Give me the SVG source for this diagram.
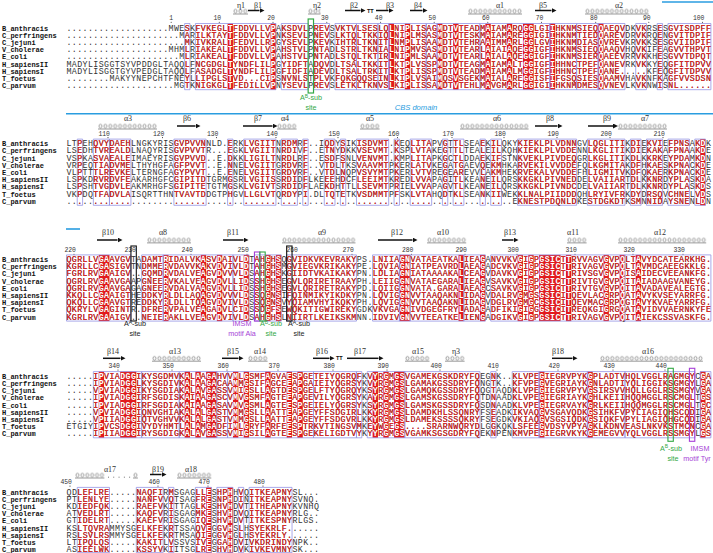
<svg xmlns="http://www.w3.org/2000/svg" xmlns:xlink="http://www.w3.org/1999/xlink" width="713" height="553" viewBox="0 0 713 553">
<style>
.sq{font-family:"Liberation Mono",monospace;font-size:8.3px}
.nm{font-family:"Liberation Mono",monospace;font-size:7px;font-weight:bold;fill:#111}
.num{font-family:"Liberation Mono",monospace;font-size:6.4px;fill:#333;text-anchor:end}
.ss{font-family:"Liberation Serif",serif;font-size:8px;fill:#333;text-anchor:middle}
.tt{font-family:"Liberation Sans",sans-serif;font-size:5.5px;font-weight:bold;fill:#111}
.bx rect{fill:none;stroke:#9494e4;stroke-width:0.8;vector-effect:non-scaling-stroke}
.rd rect{fill:#e31a1c}
.ann{font-family:"Liberation Sans",sans-serif;font-size:7.2px;text-anchor:middle}
.arr{stroke:#111;stroke-width:1.5;fill:none;marker-end:url(#ah)}
.cl{stroke:#555;stroke-width:0.6}
.dt{fill:#333}
.cbs{stroke:#2a9de0;stroke-width:1.6}
</style>
<defs>
<marker id="ah" viewBox="0 0 6 6" refX="0" refY="3" markerWidth="5" markerHeight="5" orient="auto" markerUnits="userSpaceOnUse"><path d="M0,0 L6,3 L0,6 z" fill="#111"/></marker>
<pattern id="coil" width="4.9" height="5" patternUnits="userSpaceOnUse"><ellipse cx="2.45" cy="2.5" rx="1.5" ry="1.8" fill="none" stroke="#555" stroke-width="0.55"/></pattern>

<g id="t1" class="sq">
<text x="66.5" y="30.6" textLength="644.4" lengthAdjust="spacing">...................MWESKFVKEGLTFDDVLLVPAKSDVLPREVSVKTVLSESLQLNIPLISAGMDTVTEADMAIAMARQGGLGIIHKNMSIEQQAEQVDKVKRSESGVISDPFF</text>
<text x="66.5" y="37.8" textLength="644.4" lengthAdjust="spacing">.....................MARILKTAYTFDDVLLVPNKSEVLPNEVSLKTQLTKKIQLNIPLMSASMDTVTESKMAIAMAREGGIGIIHKNMTIEDQAREVDRVKRQENGVITDPIF</text>
<text x="66.5" y="45.0" textLength="644.4" lengthAdjust="spacing">......................MKIVKRALTFEDVLLRPGYSEVLPKEVKIHTRLTKNITLNMPLISAAMDTVTEHRAAIMMARLGGLGVIHKNMDIASQVREVKRVKKSESGVIIDPIF</text>
<text x="66.5" y="52.2" textLength="644.4" lengthAdjust="spacing">...................MHMLRIAKEALTFDDVLLVPAHSTVLPNTADLSTRLTKNIALNIPMVSASMDTVTEARLAIAIAQEGGIGFIHKNMSIEQQAAQVHQVKIFEAGVVTHPVT</text>
<text x="66.5" y="59.4" textLength="644.4" lengthAdjust="spacing">.....................MLRIAKEALTFDDVLLVPAHSTVLPNTADLSTQLTKTIRLNIPMLSAAMDTVTEARLAIALAQEGGIGFIHKNMSIERQAEEVRRVKKHESGVVTDPQT</text>
<text x="66.5" y="66.6" textLength="644.4" lengthAdjust="spacing">MADYLISGGTSYVPDDGLTAQQLFNCGDGLTYNDFLILPGYIDFTADQVDLTSALTKKITLKTPLVSSPMDTVTEAGMAIAMALTGGIGFIHHNCTPEFQANEVRKVKKYEQGFITDPVV</text>
<text x="66.5" y="73.8" textLength="644.4" lengthAdjust="spacing">MADYLISGGTGYVPEDGLTAQQLFASADGLTYNDFLILPGFIDFIADEVDLTSALTRKITLKTPLISSPMDTVTEADMAIAMALMGGIGFIHHNCTPEFQANE.....KFEQGFITDPVV</text>
<text x="66.5" y="81.0" textLength="644.4" lengthAdjust="spacing">........MAKYYNEPCHTFNEYLLIPGLSTVD...CIPSNVNLSTPLVKFQKGQQSEINLKIPLVSAIMQSVSGEKMAIALAREGGISFIFGSQSIESQAAMVHAVKNFKAGFVVSDSN</text>
<text x="66.5" y="88.2" textLength="644.4" lengthAdjust="spacing">....................MGTKNIGKGLTFEDILLVPNYSEVLPREVSLETKLTKNVSLKIPLISSAMDTVTEHLMAVGMARLGGIGIIHKNMDMESQVNEVLKVKNWISNL......</text>
</g>

<g id="t2" class="sq">
<text x="66.5" y="146.2" textLength="644.4" lengthAdjust="spacing">LTPEHQVYDAEHLNGKYRISGVPVVNNLD.ERKLVGIITNRDMRF..IQDYSIKISDVMT.KEQLITAPVGTTLSEAEKILQKYKIEKLPLVDNNGVLQGLITIKDIEKVIEFPNSAKDK</text>
<text x="66.5" y="153.4" textLength="644.4" lengthAdjust="spacing">LSEDHTVREALDLNAQYRISGVPVVTR...EGKLVGIITNRDIVF..ETNYDKKVSEVMT.KSPLVTAKEGTTLTEALEILKQHKIEKLPLVDDENNLKGLITIKDIEKAKAFPNAAKDE</text>
<text x="66.5" y="160.6" textLength="644.4" lengthAdjust="spacing">VSPKASVAEALEIMAEYRISGVPVVD..E.DKKLIGILTNRDLRF..ESDFSNLVENVMT.KMPLITAPKGCTLDDAEKIFSTNKVEKLPIVDEQGRLKGLITIKDLKKRKEYPDAMKDN</text>
<text x="66.5" y="167.8" textLength="644.4" lengthAdjust="spacing">VRPEQTIADVMELTHYHGFAGFPVVT..E.NNELVGIITGRDVRF..VTDLTKSVAAVMTPKERLATVKEGATGAEVQEKMHKARVEKILVVDDEFQLKGMITAKDFHKAESKPNACKDE</text>
<text x="66.5" y="175.0" textLength="644.4" lengthAdjust="spacing">VLPTTTLREVKELTERNGFAGYPVVT..E.ENELVGIITGRDVRF..VTDLNQPVSVYMTPKERLVTVREGEAREVVLAKMHEKRVEKALVVDDEFHLIGMITVKDFQKAERKPNACKDE</text>
<text x="66.5" y="182.2" textLength="644.4" lengthAdjust="spacing">LSPKDRVRDVFEAKARHGFCGIPITDTGRMGSRLVGIISSRDIDFLKEEEHDCFLEEIMTKREDLVVAPAGITLKEANEILQRSKKGKLPIVNEDDELVAIIARTDLKKNRDYPLASKDA</text>
<text x="66.5" y="189.4" textLength="644.4" lengthAdjust="spacing">LSPSHTVGDVLEAKMRHGFSGIPITETGTMGSKLVGIVTSRDIDFLAEKDHTTLLSEVMTPRIELVVAPAGVTLKEANEILQRSKKGKLPIVNDCDELVAIIARTDLKKNRDYPLASKDS</text>
<text x="66.5" y="196.6" textLength="644.4" lengthAdjust="spacing">VKPDQTFADVLAISQRTTHNTVAVTDDGTPHGVLLGLVTQRDYPI.DLTQTETKVSDMMTPFSKLVTAHQDTKLSEANKIIWEKKLNALPIIDDDQHLRYIVFRKDYDRSQVCHNELVDS</text>
<text x="66.5" y="203.8" textLength="644.4" lengthAdjust="spacing">...................................................................................EKNESTPDQNLDKESTDGKDTKSMNNIDAYSNENLDN</text>
</g>

<g id="t3" class="sq">
<text x="66.5" y="262.0" textLength="644.4" lengthAdjust="spacing">QGRLLVGAAVGVTADAMTRIDALVKASVDAIVLDTAHGHSQGVIDKVKEVRAKYPS.LNIIAGNVATAEATKALIEAGANVVKVGIGPGSICTTRVVAGVGVPQLTAVYDCATEARKHG.</text>
<text x="66.5" y="269.2" textLength="644.4" lengthAdjust="spacing">KGRLLCGASIGVTNDMMERVDAVVKAKVDVIVLDTAHGHSMGVIEGVKRIKAKYPE.LQVIAGNIATPEAVRDLAEAGADCVKVGIGPGSICTTRIVAGVGVPQLTAVMDCAEEGKKLG.</text>
<text x="66.5" y="276.4" textLength="644.4" lengthAdjust="spacing">FGRLRVGAAIGV..GQMDRVDALVEAGVDVVVLDSAHGHSKGIIDTVKAIKAKYPN.LDLIAGNIATAAAAKALCEAGVDAVKVGIGPGSICTTRIVSGVGVPQISAIDECVEEANKFG.</text>
<text x="66.5" y="283.6" textLength="644.4" lengthAdjust="spacing">QGRLRVGAAVGAAPGNEERVKALVEAGVDVLLIDSSHGHSEGVLQRIRETRAAYPH.LEIIGGNVATAEGARALIEAGVSAVKVGIGPGSICTTRIVTGVGVPQITAIADAAGVANEYG.</text>
<text x="66.5" y="290.8" textLength="644.4" lengthAdjust="spacing">QGRLRVGAAVGAGAGNEERVDALVAAGVDVLLIDSSHGHSEGVLQRIRETRAKYPD.LQIIGGNVATA.GARALAEAGCSAVKVGIGPGSICTTRIVTGVGVPQITAVADAVEALEGTG.</text>
<text x="66.5" y="298.0" textLength="644.4" lengthAdjust="spacing">KKQLLCGAAIGTHEDDKYRLDLLAQAGVDVVVLDSSQGNSIFQINMIKYIKDKYPN.LQVIGGNVVTAAQAKNLIDAGVDALRVGMGSGSICITQEVLACGRPQATAVYKVSEYARRFG.</text>
<text x="66.5" y="305.2" textLength="644.4" lengthAdjust="spacing">QKQLLCGAAVGTREDDKYRLDLLTQAGVDVIVLDSSQGNSVYQIAMVHYIKQKYPH.LQVIGGNVVTAAQAKNLIDAGVDGLRVGMGCGSICITQEVMACGRPQGTAVYKVAEYARRFG.</text>
<text x="66.5" y="312.4" textLength="644.4" lengthAdjust="spacing">QKRYLVGAGINTR.DFRERVPALVEAGADVLCIDSSDGFSEWQKITIGWIREKYGDKVKVGAGNIVDGEGFRYLADAGADFIKIGIGGGSICITREQKGIGRGQATAVIDVVAERNKYFE</text>
<text x="66.5" y="319.6" textLength="644.4" lengthAdjust="spacing">KGRLRVGAAIGV..NEIERAKLLVEAGVDVIVLDSAHGHSLNIIRTLKEIKSKMNN.IDVIVGNVVTEEATKELIENGADGIKVGIGPGSICTTRIVAGVGVPQITAIEKCSSVASKFG.</text>
</g>

<g id="t4" class="sq">
<text x="66.5" y="378.7" textLength="644.4" lengthAdjust="spacing">.....IPVIADGGIKYSGDMVKALAAGAHVVMLGSMFAGVAESPGETEIYQGRQFKVYRGMGSVGAMEKGSKDRYFQEGNK..KLVPEGIEGRVPYKGPLADTVHQLVGGLRAGMGYCGA</text>
<text x="66.5" y="385.9" textLength="644.4" lengthAdjust="spacing">.....IPVIADGGLKYSGDIVKALAAGACAAMMGSIFAGCEEAPGAIEIYQGRSYKVYRGMGSLGAMAKGSSDRYFQNGTK..KFVPEGVEGRIAYKGNLADTIYQLIGGIKSGMGYLGA</text>
<text x="66.5" y="393.1" textLength="644.4" lengthAdjust="spacing">.....VPVIADGGIKYSGDIAKALAVGASSVMIGSLLAGTDESPGELFTYQGRQYKSYRGMGSLGAMQKGSSDRYFQQGTAQDKLVPEGIEGRVPYVGSIRSVVHQLLGGLRSSMGYVGA</text>
<text x="66.5" y="400.3" textLength="644.4" lengthAdjust="spacing">.....IPVIADGGIRFSGDISKAIAAGASCVMVGSMFAGTEEAPGEVILYQGRSYKAYRGMGSLGAMSKGSSDRYFQTDNAADKLVPEGIEGRIAYKGHLKEIIHQQMGGLRSCMGLTGS</text>
<text x="66.5" y="407.5" textLength="644.4" lengthAdjust="spacing">.....IPVIADGGIRFSGDIAKAIAAGASAVMVGSMLAGTEESPGEIELYQGRSYKSYRGMGSLGAMSKGSSDRYFQSDNAADKLVPEGIEGRVAYKGRLKEIIHQQMGGLRSCMGLTGC</text>
<text x="66.5" y="414.7" textLength="644.4" lengthAdjust="spacing">.....VPVIADGGIQNVGHIAKALALGASTVMMGSLLAATTEAPGEYFFSDGIRLKKYRGMGSLDAMDKHLSSQNRYFSEADKIKVAQGVSGAVQDKGSIHKFVPYLIAGIQHSCQDIGA</text>
<text x="66.5" y="421.9" textLength="644.4" lengthAdjust="spacing">.....VPIIADGGIQTVGHVVKALALGASTVMMGSLLAATTEAPGEYFFSDGVRLKKYRGMGSLDAMEKSSSSQKRYFSEGDKVKIAQGVSGSIQDKGSIQKFVPYLIAGIQHGCQDIGA</text>
<text x="66.5" y="429.1" textLength="644.4" lengthAdjust="spacing">ETGIYIPVCSDGGIVYDYHMTLALAMGADFIMLGRYFARFEESPTRKVTINGSVMKEYWGEGS....SRARNWQRYDLGGKQKLSFEEGVDSYVPYAGKLKDNVEASLNKVKSTMCNCGA</text>
<text x="66.5" y="436.3" textLength="644.4" lengthAdjust="spacing">.....IPIIADGGIRYSGDIGKALAVGASSVMIGSILAGTEESPGEKELIGDTVYKYYRGMGSVGAMKSGSGDRYFQEKNPENKMVPEGIEGRVKYKGEMEGVVYQLVGGLRSSMGYLGS</text>
</g>

<g id="t5" class="sq">
<text x="66.5" y="494.5" textLength="252.39" lengthAdjust="spacing">QDLEFLRE.....NAQFIRMSGAGLLESHPHHVQITKEAPNYSL...</text>
<text x="66.5" y="501.7" textLength="252.39" lengthAdjust="spacing">PTLENLYE.....NANFVVQTSAGFRESNPHDINITKEAPNYSVNQ.</text>
<text x="66.5" y="508.9" textLength="252.39" lengthAdjust="spacing">KDIEDFQK.....RAEFVKITTAGLKESHVHDVTITHEAPNYKVNHQ</text>
<text x="66.5" y="516.1" textLength="252.39" lengthAdjust="spacing">ATVEDLRT.....KAQFVRISGAGMKESHVHDVQITKEAPNYRLG..</text>
<text x="66.5" y="523.3" textLength="252.39" lengthAdjust="spacing">GTIDELRT.....KAEFVRISGAGIQESHVHDVTITKESPNYRLGS.</text>
<text x="66.5" y="530.5" textLength="252.39" lengthAdjust="spacing">KSLTQVRAMMYSGELKFEKRTSSAQVEGGVHSLHSYEKRLF......</text>
<text x="66.5" y="537.7" textLength="252.39" lengthAdjust="spacing">RSLSVLRSMMYSGELKFEKRTMSAQIEGGVHGLHSYEKRLY......</text>
<text x="66.5" y="544.9" textLength="252.39" lengthAdjust="spacing">LTIPQLQS.....KAKITLVSSVSIVEGGAHDVIVKDRINDYNPK..</text>
<text x="66.5" y="552.1" textLength="252.39" lengthAdjust="spacing">ASIEELWK.....KSSYVKIITSGLRESHVHDVKIVKEVMNYSK...</text>
</g>

<clipPath id="cr1" clipPathUnits="userSpaceOnUse" transform="matrix(5.37 0 0 1 66.5 0)">
<rect x="30" y="23.5" width="1" height="66.2"/><rect x="38" y="23.5" width="1" height="66.2"/><rect x="60" y="23.5" width="1" height="66.2"/><rect x="63" y="23.5" width="1" height="66.2"/><rect x="69" y="23.5" width="1" height="66.2"/><rect x="72" y="23.5" width="1" height="66.2"/><rect x="78" y="23.5" width="1" height="66.2"/><rect x="82" y="23.5" width="1" height="66.2"/><rect x="85" y="23.5" width="2" height="66.2"/><rect x="90" y="23.5" width="1" height="66.2"/><rect x="99" y="23.5" width="1" height="66.2"/>
</clipPath>
<clipPath id="cb1" clipPathUnits="userSpaceOnUse" transform="matrix(5.37 0 0 1 66.5 0)">
<rect x="22" y="23.5" width="1" height="66.2"/><rect x="24" y="23.5" width="15" height="66.2"/><rect x="40" y="23.5" width="5" height="66.2"/><rect x="46" y="23.5" width="3" height="66.2"/><rect x="50" y="23.5" width="8" height="66.2"/><rect x="58" y="23.5" width="2" height="66.2"/><rect x="60" y="23.5" width="7" height="66.2"/><rect x="67" y="23.5" width="2" height="66.2"/><rect x="69" y="23.5" width="8" height="66.2"/><rect x="77" y="23.5" width="13" height="66.2"/><rect x="90" y="23.5" width="5" height="66.2"/><rect x="95" y="23.5" width="4" height="66.2"/><rect x="99" y="23.5" width="5" height="66.2"/><rect x="106" y="23.5" width="2" height="66.2"/><rect x="110" y="23.5" width="1" height="66.2"/><rect x="112" y="23.5" width="8" height="66.2"/>
</clipPath>

<clipPath id="cr2" clipPathUnits="userSpaceOnUse" transform="matrix(5.37 0 0 1 66.5 0)">
<rect x="118" y="139.1" width="1" height="66.2"/>
</clipPath>
<clipPath id="cb2" clipPathUnits="userSpaceOnUse" transform="matrix(5.37 0 0 1 66.5 0)">
<rect x="2" y="139.1" width="1" height="66.2"/><rect x="5" y="139.1" width="3" height="66.2"/><rect x="8" y="139.1" width="4" height="66.2"/><rect x="20" y="139.1" width="6" height="66.2"/><rect x="30" y="139.1" width="1" height="66.2"/><rect x="33" y="139.1" width="6" height="66.2"/><rect x="40" y="139.1" width="3" height="66.2"/><rect x="44" y="139.1" width="1" height="66.2"/><rect x="48" y="139.1" width="2" height="66.2"/><rect x="51" y="139.1" width="1" height="66.2"/><rect x="54" y="139.1" width="6" height="66.2"/><rect x="61" y="139.1" width="1" height="66.2"/><rect x="64" y="139.1" width="4" height="66.2"/><rect x="70" y="139.1" width="1" height="66.2"/><rect x="72" y="139.1" width="2" height="66.2"/><rect x="77" y="139.1" width="1" height="66.2"/><rect x="79" y="139.1" width="2" height="66.2"/><rect x="84" y="139.1" width="11" height="66.2"/><rect x="97" y="139.1" width="7" height="66.2"/><rect x="105" y="139.1" width="2" height="66.2"/><rect x="108" y="139.1" width="3" height="66.2"/><rect x="112" y="139.1" width="4" height="66.2"/><rect x="117" y="139.1" width="2" height="66.2"/>
</clipPath>

<clipPath id="cr3" clipPathUnits="userSpaceOnUse" transform="matrix(5.37 0 0 1 66.5 0)">
<rect x="6" y="254.9" width="2" height="66.2"/><rect x="18" y="254.9" width="1" height="66.2"/><rect x="25" y="254.9" width="1" height="66.2"/><rect x="28" y="254.9" width="1" height="66.2"/><rect x="33" y="254.9" width="1" height="66.2"/><rect x="37" y="254.9" width="1" height="66.2"/><rect x="39" y="254.9" width="1" height="66.2"/><rect x="62" y="254.9" width="2" height="66.2"/><rect x="73" y="254.9" width="1" height="66.2"/><rect x="77" y="254.9" width="1" height="66.2"/><rect x="84" y="254.9" width="1" height="66.2"/><rect x="86" y="254.9" width="1" height="66.2"/><rect x="88" y="254.9" width="4" height="66.2"/><rect x="93" y="254.9" width="1" height="66.2"/><rect x="100" y="254.9" width="1" height="66.2"/><rect x="103" y="254.9" width="1" height="66.2"/><rect x="106" y="254.9" width="1" height="66.2"/>
</clipPath>
<clipPath id="cb3" clipPathUnits="userSpaceOnUse" transform="matrix(5.37 0 0 1 66.5 0)">
<rect x="0" y="254.9" width="12" height="66.2"/><rect x="14" y="254.9" width="4" height="66.2"/><rect x="18" y="254.9" width="13" height="66.2"/><rect x="31" y="254.9" width="3" height="66.2"/><rect x="35" y="254.9" width="5" height="66.2"/><rect x="41" y="254.9" width="13" height="66.2"/><rect x="57" y="254.9" width="5" height="66.2"/><rect x="62" y="254.9" width="2" height="66.2"/><rect x="64" y="254.9" width="10" height="66.2"/><rect x="74" y="254.9" width="4" height="66.2"/><rect x="79" y="254.9" width="25" height="66.2"/><rect x="104" y="254.9" width="16" height="66.2"/>
</clipPath>

<clipPath id="cr4" clipPathUnits="userSpaceOnUse" transform="matrix(5.37 0 0 1 66.5 0)">
<rect x="6" y="371.6" width="1" height="66.2"/><rect x="10" y="371.6" width="3" height="66.2"/><rect x="22" y="371.6" width="1" height="66.2"/><rect x="24" y="371.6" width="1" height="66.2"/><rect x="26" y="371.6" width="2" height="66.2"/><rect x="31" y="371.6" width="1" height="66.2"/><rect x="33" y="371.6" width="1" height="66.2"/><rect x="37" y="371.6" width="1" height="66.2"/><rect x="41" y="371.6" width="1" height="66.2"/><rect x="43" y="371.6" width="1" height="66.2"/><rect x="57" y="371.6" width="1" height="66.2"/><rect x="59" y="371.6" width="1" height="66.2"/><rect x="61" y="371.6" width="2" height="66.2"/><rect x="88" y="371.6" width="1" height="66.2"/><rect x="97" y="371.6" width="1" height="66.2"/><rect x="118" y="371.6" width="1" height="66.2"/>
</clipPath>
<clipPath id="cb4" clipPathUnits="userSpaceOnUse" transform="matrix(5.37 0 0 1 66.5 0)">
<rect x="5" y="371.6" width="9" height="66.2"/><rect x="14" y="371.6" width="7" height="66.2"/><rect x="21" y="371.6" width="7" height="66.2"/><rect x="28" y="371.6" width="2" height="66.2"/><rect x="30" y="371.6" width="16" height="66.2"/><rect x="46" y="371.6" width="8" height="66.2"/><rect x="54" y="371.6" width="1" height="66.2"/><rect x="56" y="371.6" width="7" height="66.2"/><rect x="63" y="371.6" width="14" height="66.2"/><rect x="79" y="371.6" width="1" height="66.2"/><rect x="83" y="371.6" width="5" height="66.2"/><rect x="88" y="371.6" width="9" height="66.2"/><rect x="97" y="371.6" width="7" height="66.2"/><rect x="104" y="371.6" width="13" height="66.2"/><rect x="118" y="371.6" width="2" height="66.2"/>
</clipPath>

<clipPath id="cr5" clipPathUnits="userSpaceOnUse" transform="matrix(5.37 0 0 1 66.5 0)">
<rect x="26" y="487.4" width="1" height="65.6"/><rect x="30" y="487.4" width="1" height="65.6"/>
</clipPath>
<clipPath id="cb5" clipPathUnits="userSpaceOnUse" transform="matrix(5.37 0 0 1 66.5 0)">
<rect x="2" y="487.4" width="6" height="65.6"/><rect x="13" y="487.4" width="5" height="65.6"/><rect x="19" y="487.4" width="1" height="65.6"/><rect x="24" y="487.4" width="3" height="65.6"/><rect x="28" y="487.4" width="3" height="65.6"/><rect x="32" y="487.4" width="1" height="65.6"/><rect x="34" y="487.4" width="8" height="65.6"/>
</clipPath>
</defs>

<rect width="713" height="553" fill="#fff"/>

<!-- ================= BLOCK 1 ================= -->
<g id="block1">
 <g id="b1-structure">
  <line class="cbs" x1="662" y1="2" x2="713" y2="2"/>
  <text class="ss" x="241" y="7.7">η1</text>
  <g transform="translate(233,8.6)"><rect width="15" height="5" fill="url(#coil)"/><path class="cl" d="M0 5.4H15"/></g>
  <text class="ss" x="258" y="7.7">β1</text>
  <line class="arr" x1="248" y1="10.5" x2="259.5" y2="10.5"/>
  <text class="ss" x="317" y="7.7">η2</text>
  <g transform="translate(308,8.6)"><rect width="12.5" height="5" fill="url(#coil)"/><path class="cl" d="M0 5.4H12.5"/></g>
  <text class="ss" x="354" y="7.7">β2</text>
  <line class="arr" x1="345" y1="10.5" x2="360.5" y2="10.5"/>
  <text class="tt" x="367" y="12.6">TT</text>
  <text class="ss" x="390" y="7.7">β3</text>
  <line class="arr" x1="376" y1="10.5" x2="388.5" y2="10.5"/>
  <text class="ss" x="418" y="7.7">β4</text>
  <line class="arr" x1="410" y1="10.5" x2="422.5" y2="10.5"/>
  <text class="ss" x="500" y="7.7">α1</text>
  <g transform="translate(468,8.6)"><rect width="54" height="5" fill="url(#coil)"/><path class="cl" d="M0 5.4H54"/></g>
  <text class="ss" x="543" y="7.7">β5</text>
  <line class="arr" x1="535" y1="10.5" x2="551.5" y2="10.5"/>
  <text class="ss" x="619" y="7.7">α2</text>
  <g transform="translate(585,8.6)"><rect width="63.7" height="5" fill="url(#coil)"/><path class="cl" d="M0 5.4H63.7"/></g>
 </g>
 <g id="b1-numbers">
  <text class="num" x="173.1" y="20.3">1</text><text class="num" x="221.2" y="20.3">10</text><text class="num" x="274.9" y="20.3">20</text><text class="num" x="328.7" y="20.3">30</text><text class="num" x="382.5" y="20.3">40</text><text class="num" x="436.1" y="20.3">50</text><text class="num" x="489.7" y="20.3">60</text><text class="num" x="543.4" y="20.3">70</text><text class="num" x="597.6" y="20.3">80</text><text class="num" x="650.7" y="20.3">90</text><text class="num" x="704.4" y="20.3">100</text>
  <g class="dt"><circle cx="171.2" cy="22.3" r="0.55"/><circle cx="219.3" cy="22.3" r="0.55"/><circle cx="273" cy="22.3" r="0.55"/><circle cx="326.8" cy="22.3" r="0.55"/><circle cx="380.6" cy="22.3" r="0.55"/><circle cx="434.2" cy="22.3" r="0.55"/><circle cx="487.8" cy="22.3" r="0.55"/><circle cx="541.5" cy="22.3" r="0.55"/><circle cx="595.7" cy="22.3" r="0.55"/><circle cx="648.8" cy="22.3" r="0.55"/><circle cx="702.5" cy="22.3" r="0.55"/></g>
 </g>
 <g id="b1-names" class="nm">
  <text x="2" y="30.6">B_anthracis</text><text x="2" y="37.8">C_perfringens</text><text x="2" y="45.0">C_jejuni</text><text x="2" y="52.2">V_cholerae</text><text x="2" y="59.4">E_coli</text><text x="2" y="66.6">H_sapiensII</text><text x="2" y="73.8">H_sapiensI</text><text x="2" y="81.0">T_foetus</text><text x="2" y="88.2">C_parvum</text>
 </g>
 <g class="rd" transform="matrix(5.37 0 0 1 66.5 0)">
  <rect x="30" y="23.5" width="1" height="66.2"/><rect x="38" y="23.5" width="1" height="66.2"/><rect x="60" y="23.5" width="1" height="66.2"/><rect x="63" y="23.5" width="1" height="66.2"/><rect x="69" y="23.5" width="1" height="66.2"/><rect x="72" y="23.5" width="1" height="66.2"/><rect x="78" y="23.5" width="1" height="66.2"/><rect x="82" y="23.5" width="1" height="66.2"/><rect x="85" y="23.5" width="2" height="66.2"/><rect x="90" y="23.5" width="1" height="66.2"/><rect x="99" y="23.5" width="1" height="66.2"/>
 </g>
 <g class="bx" transform="matrix(5.37 0 0 1 66.5 0)">
  <rect x="22" y="23.5" width="1" height="66.2"/><rect x="24" y="23.5" width="15" height="66.2"/><rect x="40" y="23.5" width="5" height="66.2"/><rect x="46" y="23.5" width="3" height="66.2"/><rect x="50" y="23.5" width="4" height="66.2"/><rect x="54" y="23.5" width="4" height="66.2"/><rect x="58" y="23.5" width="2" height="66.2"/><rect x="60" y="23.5" width="7" height="66.2"/><rect x="67" y="23.5" width="2" height="66.2"/><rect x="69" y="23.5" width="8" height="66.2"/><rect x="77" y="23.5" width="13" height="66.2"/><rect x="90" y="23.5" width="5" height="66.2"/><rect x="95" y="23.5" width="4" height="66.2"/><rect x="99" y="23.5" width="5" height="66.2"/><rect x="106" y="23.5" width="2" height="66.2"/><rect x="110" y="23.5" width="1" height="66.2"/><rect x="112" y="23.5" width="8" height="66.2"/>
 </g>
 <use href="#t1" fill="#333"/>
 <use href="#t1" fill="#e8231f" clip-path="url(#cb1)"/>
 <use href="#t1" fill="#ffffff" clip-path="url(#cr1)" style="font-weight:bold"/>
 <g id="b1-site">
  <rect x="308.15" y="19" width="5.37" height="74" fill="none" stroke="#33a845" stroke-width="1.2"/>
  <text class="ann" x="311" y="100" fill="#33a845">A<tspan font-size="5" dy="-2.4">B</tspan><tspan dy="2.4">-sub</tspan></text>
  <text class="ann" x="311" y="110" fill="#33a845">site</text>
 </g>
</g>

<!-- ================= BLOCK 2 ================= -->
<g id="block2">
 <g id="b2-structure">
  <text x="416" y="110.4" font-family="Liberation Sans, sans-serif" font-size="7.6" font-style="italic" fill="#2a9de0" text-anchor="middle">CBS domain</text>
  <line class="cbs" x1="66" y1="113.8" x2="713" y2="113.8"/>
  <text class="ss" x="128" y="121">α3</text>
  <g transform="translate(98,123.6)"><rect width="59" height="5" fill="url(#coil)"/><path class="cl" d="M0 5.4H59"/></g>
  <text class="ss" x="187" y="121">β6</text>
  <line class="arr" x1="177" y1="126" x2="195.5" y2="126"/>
  <text class="ss" x="258" y="121">β7</text>
  <line class="arr" x1="243" y1="126" x2="272.5" y2="126"/>
  <text class="ss" x="285" y="121">α4</text>
  <g transform="translate(277,123.6)"><rect width="19.6" height="5" fill="url(#coil)"/><path class="cl" d="M0 5.4H19.6"/></g>
  <text class="ss" x="370" y="121">α5</text>
  <g transform="translate(360,123.6)"><rect width="19.6" height="5" fill="url(#coil)"/><path class="cl" d="M0 5.4H19.6"/></g>
  <text class="ss" x="497" y="121">α6</text>
  <g transform="translate(460,123.6)"><rect width="68.6" height="5" fill="url(#coil)"/><path class="cl" d="M0 5.4H68.6"/></g>
  <text class="ss" x="550" y="121">β8</text>
  <line class="arr" x1="535" y1="126" x2="557.5" y2="126"/>
  <text class="ss" x="607" y="121">β9</text>
  <line class="arr" x1="588" y1="126" x2="613" y2="126"/>
  <text class="ss" x="645" y="121">α7</text>
  <g transform="translate(618,123.6)"><rect width="49" height="5" fill="url(#coil)"/><path class="cl" d="M0 5.4H49"/></g>
 </g>
 <g id="b2-numbers">
  <text class="num" x="109.9" y="135.5">110</text><text class="num" x="164.4" y="135.5">120</text><text class="num" x="218.4" y="135.5">130</text><text class="num" x="277.9" y="135.5">140</text><text class="num" x="339.9" y="135.5">150</text><text class="num" x="399.4" y="135.5">160</text><text class="num" x="453.9" y="135.5">170</text><text class="num" x="505.9" y="135.5">180</text><text class="num" x="558.9" y="135.5">190</text><text class="num" x="611.9" y="135.5">200</text><text class="num" x="664.9" y="135.5">210</text>
  <g class="dt"><circle cx="108" cy="137.6" r="0.55"/><circle cx="162.5" cy="137.6" r="0.55"/><circle cx="216.5" cy="137.6" r="0.55"/><circle cx="276" cy="137.6" r="0.55"/><circle cx="338" cy="137.6" r="0.55"/><circle cx="397.5" cy="137.6" r="0.55"/><circle cx="452" cy="137.6" r="0.55"/><circle cx="504" cy="137.6" r="0.55"/><circle cx="557" cy="137.6" r="0.55"/><circle cx="610" cy="137.6" r="0.55"/><circle cx="663" cy="137.6" r="0.55"/></g>
 </g>
 <g id="b2-names" class="nm">
  <text x="2" y="146.2">B_anthracis</text><text x="2" y="153.4">C_perfringens</text><text x="2" y="160.6">C_jejuni</text><text x="2" y="167.8">V_cholerae</text><text x="2" y="175.0">E_coli</text><text x="2" y="182.2">H_sapiensII</text><text x="2" y="189.4">H_sapiensI</text><text x="2" y="196.6">T_foetus</text><text x="2" y="203.8">C_parvum</text>
 </g>
 <g class="rd" transform="matrix(5.37 0 0 1 66.5 0)">
  <rect x="118" y="139.1" width="1" height="66.2"/>
 </g>
 <g class="bx" transform="matrix(5.37 0 0 1 66.5 0)">
  <rect x="2" y="139.1" width="1" height="66.2"/><rect x="5" y="139.1" width="3" height="66.2"/><rect x="8" y="139.1" width="4" height="66.2"/><rect x="20" y="139.1" width="6" height="66.2"/><rect x="30" y="139.1" width="1" height="66.2"/><rect x="33" y="139.1" width="6" height="66.2"/><rect x="40" y="139.1" width="3" height="66.2"/><rect x="44" y="139.1" width="1" height="66.2"/><rect x="48" y="139.1" width="2" height="66.2"/><rect x="51" y="139.1" width="1" height="66.2"/><rect x="54" y="139.1" width="6" height="66.2"/><rect x="61" y="139.1" width="1" height="66.2"/><rect x="64" y="139.1" width="4" height="66.2"/><rect x="70" y="139.1" width="1" height="66.2"/><rect x="72" y="139.1" width="2" height="66.2"/><rect x="77" y="139.1" width="1" height="66.2"/><rect x="79" y="139.1" width="2" height="66.2"/><rect x="84" y="139.1" width="11" height="66.2"/><rect x="97" y="139.1" width="7" height="66.2"/><rect x="105" y="139.1" width="2" height="66.2"/><rect x="108" y="139.1" width="3" height="66.2"/><rect x="112" y="139.1" width="4" height="66.2"/><rect x="117" y="139.1" width="2" height="66.2"/>
 </g>
 <use href="#t2" fill="#333"/>
 <use href="#t2" fill="#e8231f" clip-path="url(#cb2)"/>
 <use href="#t2" fill="#ffffff" clip-path="url(#cr2)" style="font-weight:bold"/>
</g>

<!-- ================= BLOCK 3 ================= -->
<g id="block3">
 <g id="b3-structure">
  <line class="cbs" x1="66" y1="229" x2="80" y2="229"/>
  <text class="ss" x="108" y="235">β10</text>
  <line class="arr" x1="97" y1="240" x2="117.5" y2="240"/>
  <text class="ss" x="163" y="235">α8</text>
  <g transform="translate(147,237.5)"><rect width="44" height="5" fill="url(#coil)"/><path class="cl" d="M0 5.4H44"/></g>
  <text class="ss" x="233" y="235">β11</text>
  <line class="arr" x1="223" y1="240" x2="243.5" y2="240"/>
  <text class="ss" x="322" y="235">α9</text>
  <g transform="translate(282,237.5)"><rect width="73.5" height="5" fill="url(#coil)"/><path class="cl" d="M0 5.4H73.5"/></g>
  <text class="ss" x="397" y="235">β12</text>
  <line class="arr" x1="378" y1="240" x2="412.5" y2="240"/>
  <text class="ss" x="443" y="235">α10</text>
  <g transform="translate(427,237.5)"><rect width="39.2" height="5" fill="url(#coil)"/><path class="cl" d="M0 5.4H39.2"/></g>
  <text class="ss" x="510" y="235">β13</text>
  <line class="arr" x1="502" y1="240" x2="513.5" y2="240"/>
  <text class="ss" x="573" y="235">α11</text>
  <g transform="translate(567,237.5)"><rect width="19.6" height="5" fill="url(#coil)"/><path class="cl" d="M0 5.4H19.6"/></g>
  <text class="ss" x="660" y="235">α12</text>
  <g transform="translate(618,237.5)"><rect width="88.2" height="5" fill="url(#coil)"/><path class="cl" d="M0 5.4H88.2"/></g>
 </g>
 <g id="b3-numbers">
  <text class="num" x="75.9" y="252.3">220</text><text class="num" x="135.9" y="252.3">230</text><text class="num" x="192.9" y="252.3">240</text><text class="num" x="248.9" y="252.3">250</text><text class="num" x="297.9" y="252.3">260</text><text class="num" x="353.9" y="252.3">270</text><text class="num" x="413.4" y="252.3">280</text><text class="num" x="466.9" y="252.3">290</text><text class="num" x="518.9" y="252.3">300</text><text class="num" x="576.9" y="252.3">310</text><text class="num" x="634.9" y="252.3">320</text><text class="num" x="684.9" y="252.3">330</text>
  <g class="dt"><circle cx="74" cy="254.2" r="0.55"/><circle cx="191" cy="254.2" r="0.55"/><circle cx="247" cy="254.2" r="0.55"/><circle cx="352" cy="254.2" r="0.55"/><circle cx="411.5" cy="254.2" r="0.55"/><circle cx="465" cy="254.2" r="0.55"/><circle cx="517" cy="254.2" r="0.55"/><circle cx="575" cy="254.2" r="0.55"/><circle cx="633" cy="254.2" r="0.55"/><circle cx="683" cy="254.2" r="0.55"/></g>
 </g>
 <g id="b3-names" class="nm">
  <text x="2" y="262.0">B_anthracis</text><text x="2" y="269.2">C_perfringens</text><text x="2" y="276.4">C_jejuni</text><text x="2" y="283.6">V_cholerae</text><text x="2" y="290.8">E_coli</text><text x="2" y="298.0">H_sapiensII</text><text x="2" y="305.2">H_sapiensI</text><text x="2" y="312.4">T_foetus</text><text x="2" y="319.6">C_parvum</text>
 </g>
 <g class="rd" transform="matrix(5.37 0 0 1 66.5 0)">
  <rect x="6" y="254.9" width="2" height="66.2"/><rect x="18" y="254.9" width="1" height="66.2"/><rect x="25" y="254.9" width="1" height="66.2"/><rect x="28" y="254.9" width="1" height="66.2"/><rect x="33" y="254.9" width="1" height="66.2"/><rect x="37" y="254.9" width="1" height="66.2"/><rect x="39" y="254.9" width="1" height="66.2"/><rect x="62" y="254.9" width="2" height="66.2"/><rect x="73" y="254.9" width="1" height="66.2"/><rect x="77" y="254.9" width="1" height="66.2"/><rect x="84" y="254.9" width="1" height="66.2"/><rect x="86" y="254.9" width="1" height="66.2"/><rect x="88" y="254.9" width="4" height="66.2"/><rect x="93" y="254.9" width="1" height="66.2"/><rect x="100" y="254.9" width="1" height="66.2"/><rect x="103" y="254.9" width="1" height="66.2"/><rect x="106" y="254.9" width="1" height="66.2"/>
 </g>
 <g class="bx" transform="matrix(5.37 0 0 1 66.5 0)">
  <rect x="0" y="254.9" width="12" height="66.2"/><rect x="14" y="254.9" width="4" height="66.2"/><rect x="18" y="254.9" width="13" height="66.2"/><rect x="31" y="254.9" width="3" height="66.2"/><rect x="35" y="254.9" width="5" height="66.2"/><rect x="41" y="254.9" width="13" height="66.2"/><rect x="57" y="254.9" width="5" height="66.2"/><rect x="62" y="254.9" width="2" height="66.2"/><rect x="64" y="254.9" width="10" height="66.2"/><rect x="74" y="254.9" width="4" height="66.2"/><rect x="79" y="254.9" width="25" height="66.2"/><rect x="104" y="254.9" width="16" height="66.2"/>
 </g>
 <use href="#t3" fill="#333"/>
 <use href="#t3" fill="#e8231f" clip-path="url(#cb3)"/>
 <use href="#t3" fill="#ffffff" clip-path="url(#cr3)" style="font-weight:bold"/>
 <g id="b3-sites">
  <rect x="130.94" y="246" width="5.37" height="75" fill="none" stroke="#111" stroke-width="1.1"/>
  <rect x="254.45" y="252" width="5.37" height="69" fill="none" stroke="#a63fd6" stroke-width="1.1"/>
  <rect x="259.82" y="252" width="5.37" height="69" fill="none" stroke="#33a845" stroke-width="1.1"/>
  <rect x="286.67" y="246" width="5.37" height="75" fill="none" stroke="#111" stroke-width="1.1"/>
  <text class="ann" x="135" y="326" fill="#222">A<tspan font-size="5" dy="-2.4">A</tspan><tspan dy="2.4">-sub</tspan></text>
  <text class="ann" x="135" y="336" fill="#222">site</text>
  <text class="ann" x="242" y="326" fill="#a63fd6">IMSM</text>
  <text class="ann" x="242" y="336" fill="#a63fd6">motif Ala</text>
  <text class="ann" x="271" y="326" fill="#33a845">A<tspan font-size="5" dy="-2.4">B</tspan><tspan dy="2.4">-sub</tspan></text>
  <text class="ann" x="271" y="336" fill="#33a845">site</text>
  <text class="ann" x="299" y="326" fill="#222">A<tspan font-size="5" dy="-2.4">A</tspan><tspan dy="2.4">-sub</tspan></text>
  <text class="ann" x="299" y="336" fill="#222">site</text>
 </g>
</g>

<!-- ================= BLOCK 4 ================= -->
<g id="block4">
 <g id="b4-structure">
  <text class="ss" x="113" y="354">β14</text>
  <line class="arr" x1="103" y1="358.3" x2="120.5" y2="358.3"/>
  <text class="ss" x="175" y="354">α13</text>
  <g transform="translate(152,355.8)"><rect width="49" height="5" fill="url(#coil)"/><path class="cl" d="M0 5.4H49"/></g>
  <text class="ss" x="233" y="354">β15</text>
  <line class="arr" x1="222" y1="358.3" x2="238.5" y2="358.3"/>
  <text class="ss" x="260" y="354">α14</text>
  <g transform="translate(248,355.8)"><rect width="19.6" height="5" fill="url(#coil)"/><path class="cl" d="M0 5.4H19.6"/></g>
  <text class="ss" x="322" y="354">β16</text>
  <line class="arr" x1="313" y1="358.3" x2="329.5" y2="358.3"/>
  <text class="tt" x="336" y="360.4">TT</text>
  <text class="ss" x="360" y="354">β17</text>
  <line class="arr" x1="347" y1="358.3" x2="378.5" y2="358.3"/>
  <text class="ss" x="418" y="354">α15</text>
  <g transform="translate(405,355.8)"><rect width="24.5" height="5" fill="url(#coil)"/><path class="cl" d="M0 5.4H24.5"/></g>
  <text class="ss" x="456" y="354">η3</text>
  <g transform="translate(445,355.8)"><rect width="19.6" height="5" fill="url(#coil)"/><path class="cl" d="M0 5.4H19.6"/></g>
  <text class="ss" x="558" y="354">β18</text>
  <line class="arr" x1="552" y1="358.3" x2="572.5" y2="358.3"/>
  <text class="ss" x="648" y="354">α16</text>
  <g transform="translate(600,355.8)"><rect width="102.9" height="5" fill="url(#coil)"/><path class="cl" d="M0 5.4H102.9"/></g>
 </g>
 <g id="b4-numbers">
  <text class="num" x="119.9" y="368">340</text><text class="num" x="173.9" y="368">350</text><text class="num" x="228.9" y="368">360</text><text class="num" x="279.9" y="368">370</text><text class="num" x="334.9" y="368">380</text><text class="num" x="388.9" y="368">390</text><text class="num" x="441.9" y="368">400</text><text class="num" x="498.9" y="368">410</text><text class="num" x="559.9" y="368">420</text><text class="num" x="614.9" y="368">430</text><text class="num" x="666.9" y="368">440</text>
  <g class="dt"><circle cx="118" cy="370" r="0.55"/><circle cx="172" cy="370" r="0.55"/><circle cx="227" cy="370" r="0.55"/><circle cx="278" cy="370" r="0.55"/><circle cx="333" cy="370" r="0.55"/><circle cx="387" cy="370" r="0.55"/><circle cx="440" cy="370" r="0.55"/><circle cx="497" cy="370" r="0.55"/><circle cx="558" cy="370" r="0.55"/><circle cx="613" cy="370" r="0.55"/><circle cx="665" cy="370" r="0.55"/></g>
 </g>
 <g id="b4-names" class="nm">
  <text x="2" y="378.7">B_anthracis</text><text x="2" y="385.9">C_perfringens</text><text x="2" y="393.1">C_jejuni</text><text x="2" y="400.3">V_cholerae</text><text x="2" y="407.5">E_coli</text><text x="2" y="414.7">H_sapiensII</text><text x="2" y="421.9">H_sapiensI</text><text x="2" y="429.1">T_foetus</text><text x="2" y="436.3">C_parvum</text>
 </g>
 <g class="rd" transform="matrix(5.37 0 0 1 66.5 0)">
  <rect x="6" y="371.6" width="1" height="66.2"/><rect x="10" y="371.6" width="3" height="66.2"/><rect x="22" y="371.6" width="1" height="66.2"/><rect x="24" y="371.6" width="1" height="66.2"/><rect x="26" y="371.6" width="2" height="66.2"/><rect x="31" y="371.6" width="1" height="66.2"/><rect x="33" y="371.6" width="1" height="66.2"/><rect x="37" y="371.6" width="1" height="66.2"/><rect x="41" y="371.6" width="1" height="66.2"/><rect x="43" y="371.6" width="1" height="66.2"/><rect x="57" y="371.6" width="1" height="66.2"/><rect x="59" y="371.6" width="1" height="66.2"/><rect x="61" y="371.6" width="2" height="66.2"/><rect x="88" y="371.6" width="1" height="66.2"/><rect x="97" y="371.6" width="1" height="66.2"/><rect x="118" y="371.6" width="1" height="66.2"/>
 </g>
 <g class="bx" transform="matrix(5.37 0 0 1 66.5 0)">
  <rect x="5" y="371.6" width="9" height="66.2"/><rect x="14" y="371.6" width="7" height="66.2"/><rect x="21" y="371.6" width="7" height="66.2"/><rect x="28" y="371.6" width="2" height="66.2"/><rect x="30" y="371.6" width="16" height="66.2"/><rect x="46" y="371.6" width="8" height="66.2"/><rect x="54" y="371.6" width="1" height="66.2"/><rect x="56" y="371.6" width="7" height="66.2"/><rect x="63" y="371.6" width="14" height="66.2"/><rect x="79" y="371.6" width="1" height="66.2"/><rect x="83" y="371.6" width="5" height="66.2"/><rect x="88" y="371.6" width="9" height="66.2"/><rect x="97" y="371.6" width="7" height="66.2"/><rect x="104" y="371.6" width="13" height="66.2"/><rect x="118" y="371.6" width="2" height="66.2"/>
 </g>
 <use href="#t4" fill="#333"/>
 <use href="#t4" fill="#e8231f" clip-path="url(#cb4)"/>
 <use href="#t4" fill="#ffffff" clip-path="url(#cr4)" style="font-weight:bold"/>
 <g id="b4-sites">
  <rect x="667.94" y="368.3" width="5.37" height="73" fill="none" stroke="#33a845" stroke-width="1.1"/>
  <rect x="689.42" y="368.3" width="5.37" height="73" fill="none" stroke="#a63fd6" stroke-width="1.1"/>
  <text class="ann" x="671" y="450.5" fill="#33a845">A<tspan font-size="5" dy="-2.4">B</tspan><tspan dy="2.4">-sub</tspan></text>
  <text class="ann" x="673" y="460.5" fill="#33a845">site</text>
  <text class="ann" x="700" y="450.5" fill="#a63fd6">IMSM</text>
  <text class="ann" x="697" y="460.5" fill="#a63fd6">motif Tyr</text>
 </g>
</g>

<!-- ================= BLOCK 5 ================= -->
<g id="block5">
 <g id="b5-structure">
  <text class="ss" x="110" y="472">α17</text>
  <g transform="translate(75,472.6)"><rect width="29.4" height="5" fill="url(#coil)"/><path class="cl" d="M0 5.4H29.4"/></g>
  <line x1="108" y1="477.2" x2="131" y2="477.2" stroke="#555" stroke-width="0.9" stroke-dasharray="0.9 4.4"/>
  <g transform="translate(133,472.6)"><rect width="4.9" height="5" fill="url(#coil)"/><path class="cl" d="M0 5.4H4.9"/></g>
  <text class="ss" x="158" y="472">β19</text>
  <line class="arr" x1="150" y1="474.5" x2="161.5" y2="474.5"/>
  <text class="ss" x="191" y="472">α18</text>
  <g transform="translate(177,472.6)"><rect width="34.3" height="5" fill="url(#coil)"/><path class="cl" d="M0 5.4H34.3"/></g>
 </g>
 <g id="b5-numbers">
  <text class="num" x="71.9" y="484.2">450</text><text class="num" x="159.9" y="484.2">460</text><text class="num" x="209.9" y="484.2">470</text><text class="num" x="264.9" y="484.2">480</text>
  <g class="dt"><circle cx="70" cy="486.1" r="0.55"/><circle cx="158" cy="486.1" r="0.55"/><circle cx="208" cy="486.1" r="0.55"/><circle cx="263" cy="486.1" r="0.55"/></g>
 </g>
 <g id="b5-names" class="nm">
  <text x="2" y="494.5">B_anthracis</text><text x="2" y="501.7">C_perfringens</text><text x="2" y="508.9">C_jejuni</text><text x="2" y="516.1">V_cholerae</text><text x="2" y="523.3">E_coli</text><text x="2" y="530.5">H_sapiensII</text><text x="2" y="537.7">H_sapiensI</text><text x="2" y="544.9">T_foetus</text><text x="2" y="552.1">C_parvum</text>
 </g>
 <g class="rd" transform="matrix(5.37 0 0 1 66.5 0)">
  <rect x="26" y="487.4" width="1" height="65.6"/><rect x="30" y="487.4" width="1" height="65.6"/>
 </g>
 <g class="bx" transform="matrix(5.37 0 0 1 66.5 0)">
  <rect x="2" y="487.4" width="6" height="65.2"/><rect x="13" y="487.4" width="5" height="65.2"/><rect x="19" y="487.4" width="1" height="65.2"/><rect x="24" y="487.4" width="3" height="65.2"/><rect x="28" y="487.4" width="3" height="65.2"/><rect x="32" y="487.4" width="1" height="65.2"/><rect x="34" y="487.4" width="8" height="65.2"/>
 </g>
 <use href="#t5" fill="#333"/>
 <use href="#t5" fill="#e8231f" clip-path="url(#cb5)"/>
 <use href="#t5" fill="#ffffff" clip-path="url(#cr5)" style="font-weight:bold"/>
</g>
</svg>
